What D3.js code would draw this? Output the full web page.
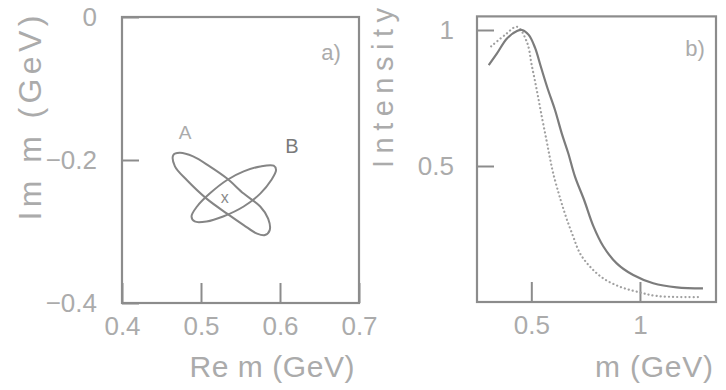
<!DOCTYPE html>
<html>
<head>
<meta charset="utf-8">
<script src="https://cdn.jsdelivr.net/npm/d3@7"></script>
<style>
  body { margin: 0; background: #fff; }
  text { font-family: "Liberation Sans", Arial, sans-serif; fill: #ababab; }
</style>
</head>
<body>
<svg id="fig" width="726" height="390"></svg>
<script>
// ---- Panel a: pole contours in the complex mass plane (Re m, Im m in GeV)
const contourA = [
  [0.465, -0.193], [0.473, -0.190], [0.490, -0.195], [0.511, -0.209],
  [0.533, -0.226], [0.554, -0.247], [0.575, -0.265], [0.585, -0.282],
  [0.587, -0.298], [0.581, -0.305], [0.571, -0.303], [0.554, -0.291],
  [0.533, -0.275], [0.507, -0.254], [0.482, -0.228], [0.467, -0.209]
];
const contourB = [
  [0.592, -0.208], [0.575, -0.209], [0.554, -0.216], [0.533, -0.228],
  [0.511, -0.247], [0.495, -0.265], [0.488, -0.279], [0.492, -0.286],
  [0.507, -0.286], [0.528, -0.279], [0.554, -0.265], [0.575, -0.247],
  [0.589, -0.228], [0.595, -0.214]
];
const poleCentre = [0.530, -0.252];
const contourLabels = ["A", "B"];
const labelAPos = [0.480, -0.170];
const labelBPos = [0.615, -0.190];

const aXTicks = [0.4, 0.5, 0.6, 0.7];
const aXTickLabels = ["0.4", "0.5", "0.6", "0.7"];
const aYTicks = [0, -0.2, -0.4];
const aYTickLabels = ["0", "\u22120.2", "\u22120.4"];

// ---- Panel b: intensity line shapes versus m (GeV)
const massSolid = [0.304, 0.342, 0.388, 0.434, 0.457, 0.488, 0.517, 0.545, 0.575, 0.609,
  0.640, 0.670, 0.701, 0.743, 0.785, 0.831, 0.893, 0.969, 1.061, 1.169, 1.290];
const intensitySolid = [0.871, 0.914, 0.969, 0.996, 1.000, 0.982, 0.935, 0.862, 0.785, 0.706,
  0.620, 0.547, 0.461, 0.375, 0.280, 0.205, 0.142, 0.099, 0.069, 0.054, 0.050];
const massDotted = [0.315, 0.379, 0.434, 0.480, 0.502, 0.525, 0.545, 0.571, 0.586, 0.601,
  0.624, 0.640, 0.663, 0.693, 0.724, 0.770, 0.831, 0.908, 0.985, 1.080, 1.276];
const intensityDotted = [0.940, 0.982, 1.012, 0.955, 0.870, 0.780, 0.695, 0.590, 0.528, 0.472,
  0.405, 0.362, 0.305, 0.240, 0.179, 0.130, 0.087, 0.056, 0.038, 0.022, 0.018];

const bXTicks = [0.5, 1];
const bXTickLabels = ["0.5", "1"];
const bYTicks = [0.5, 1];
const bYTickLabels = ["0.5", "1"];

const svg = d3.select("#fig");
const frameColor = "#8c8c8c";

function frame(x, y) {
  const [x0, x1] = x.range(), [y0, y1] = y.range();
  svg.append("rect")
    .attr("x", x0).attr("y", y1)
    .attr("width", x1 - x0).attr("height", y0 - y1)
    .attr("fill", "none").attr("stroke", frameColor).attr("stroke-width", 2.2);
}

function axes(x, y, xt, xl, yt, yl, yPad) {
  const gx = svg.append("g").attr("transform", `translate(0,${y.range()[0]})`)
    .call(d3.axisBottom(x).tickValues(xt).tickFormat((d, i) => xl[i])
      .tickSizeInner(-20).tickSizeOuter(0).tickPadding(14));
  const gy = svg.append("g").attr("transform", `translate(${x.range()[0]},0)`)
    .call(d3.axisLeft(y).tickValues(yt).tickFormat((d, i) => yl[i])
      .tickSizeInner(-17).tickSizeOuter(0).tickPadding(yPad));
  [gx, gy].forEach(g => {
    g.select(".domain").remove();
    g.selectAll(".tick line").attr("stroke", frameColor).attr("stroke-width", 2);
    g.selectAll(".tick text").attr("font-size", 26)
      .attr("font-family", "Liberation Sans, Arial, sans-serif").attr("fill", "#ababab");
  });
}

// ---------------- Panel a
const xa = d3.scaleLinear([0.4, 0.7], [122, 359]);
const ya = d3.scaleLinear([-0.4, 0], [303, 17]);

frame(xa, ya);
axes(xa, ya, aXTicks, aXTickLabels, aYTicks, aYTickLabels, 25);

const closed = d3.line().x(d => xa(d[0])).y(d => ya(d[1])).curve(d3.curveCatmullRomClosed);
[contourA, contourB].forEach(c => {
  svg.append("path").attr("d", closed(c))
    .attr("fill", "none").attr("stroke", "#858585").attr("stroke-width", 2);
});

svg.append("text").attr("x", xa(labelAPos[0])).attr("y", ya(labelAPos[1]))
  .attr("text-anchor", "middle").attr("font-size", 19).attr("fill", "#999")
  .text(contourLabels[0]);
svg.append("text").attr("x", xa(labelBPos[0])).attr("y", ya(labelBPos[1]))
  .attr("text-anchor", "middle").attr("font-size", 20).style("fill", "#7a7a7a")
  .text(contourLabels[1]);
svg.append("text").attr("x", xa(poleCentre[0])).attr("y", ya(poleCentre[1]))
  .attr("text-anchor", "middle").attr("dy", "0.35em").attr("font-size", 16)
  .style("fill", "#8a8a8a").text("x");

svg.append("text").attr("x", 331).attr("y", 60).attr("text-anchor", "middle")
  .attr("font-size", 22).text("a)");

svg.append("text").attr("x", 272).attr("y", 377).attr("text-anchor", "middle")
  .attr("font-size", 30).attr("textLength", 165).attr("lengthAdjust", "spacing")
  .text("Re m (GeV)");
svg.append("text").attr("transform", "translate(41,118) rotate(-90)")
  .attr("text-anchor", "middle").attr("font-size", 32)
  .attr("textLength", 205).attr("lengthAdjust", "spacing")
  .text("Im m (GeV)");

// ---------------- Panel b
const xb = d3.scaleLinear([0.25, 1.35], [477, 716]);
const yb = d3.scaleLinear([0, 1.05], [302, 16.4]);

frame(xb, yb);
axes(xb, yb, bXTicks, bXTickLabels, bYTicks, bYTickLabels, 23);

const curve = d3.line().x(d => xb(d[0])).y(d => yb(d[1])).curve(d3.curveCatmullRom);
svg.append("path").attr("d", curve(d3.zip(massDotted, intensityDotted)))
  .attr("fill", "none").attr("stroke", "#a0a0a0").attr("stroke-width", 2.2)
  .attr("stroke-dasharray", "0.1,4").attr("stroke-linecap", "round");
svg.append("path").attr("d", curve(d3.zip(massSolid, intensitySolid)))
  .attr("fill", "none").attr("stroke", "#7c7c7c").attr("stroke-width", 2.2);

svg.append("text").attr("x", 695).attr("y", 56).attr("text-anchor", "middle")
  .attr("font-size", 22).text("b)");

svg.append("text").attr("x", 713).attr("y", 377).attr("text-anchor", "end")
  .attr("font-size", 30).attr("textLength", 118).attr("lengthAdjust", "spacing")
  .text("m (GeV)");
svg.append("text").attr("transform", "translate(393,88) rotate(-90)")
  .attr("text-anchor", "middle").attr("font-size", 29)
  .attr("textLength", 160).attr("lengthAdjust", "spacing")
  .text("Intensity");
</script>
</body>
</html>
